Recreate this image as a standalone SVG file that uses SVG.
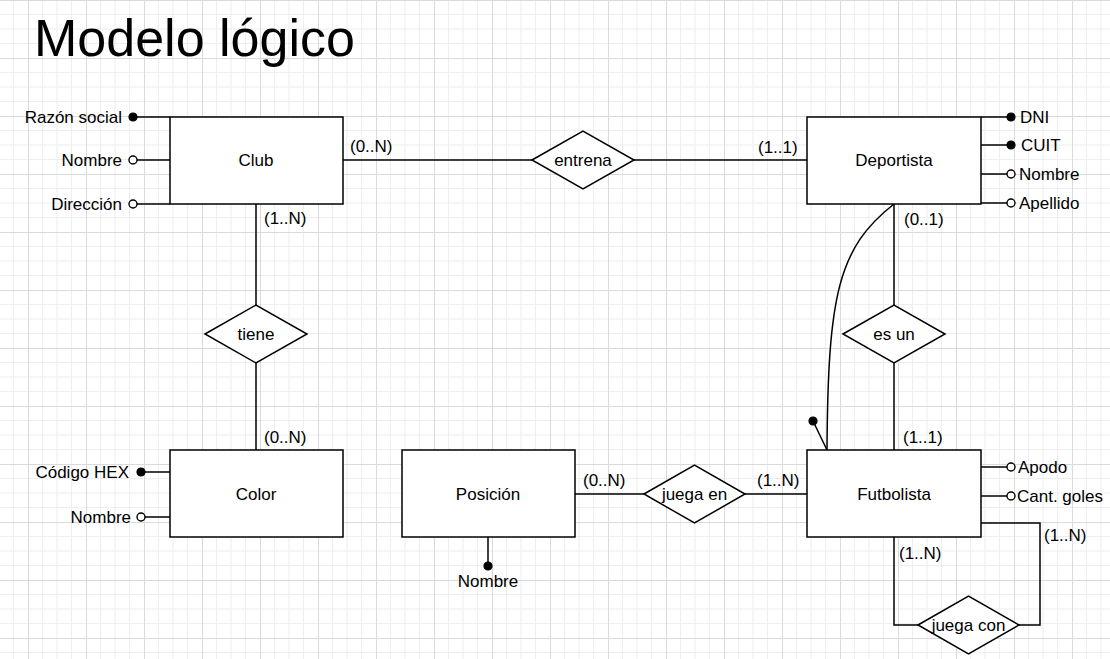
<svg xmlns="http://www.w3.org/2000/svg" width="1110" height="659" viewBox="0 0 1110 659">
<defs>
<pattern id="grid" x="28" y="0" width="58" height="58" patternUnits="userSpaceOnUse">
<rect x="14" y="0" width="1" height="58" fill="#eeeeee"/>
<rect x="28.5" y="0" width="1" height="58" fill="#eeeeee"/>
<rect x="43" y="0" width="1" height="58" fill="#eeeeee"/>
<rect x="0" y="14" width="58" height="1" fill="#eeeeee"/>
<rect x="0" y="28.5" width="58" height="1" fill="#eeeeee"/>
<rect x="0" y="43" width="58" height="1" fill="#eeeeee"/>
<rect x="0" y="0" width="1" height="58" fill="#dadada"/>
<rect x="0" y="0" width="58" height="1" fill="#dadada"/>
</pattern>
</defs>
<style>
text{font-family:"Liberation Sans",Arial,sans-serif;font-size:17px;fill:#000}
.title{font-size:52px}
.c{text-anchor:middle}
.r{text-anchor:end}
.box{fill:#fff;stroke:#000;stroke-width:1.5}
.ln{fill:none;stroke:#000;stroke-width:1.5}
.key{fill:#000;stroke:#000;stroke-width:1.2}
.opt{fill:#fff;stroke:#000;stroke-width:1.4}
</style>
<rect width="1110" height="659" fill="#fff"/>
<rect width="1110" height="659" fill="url(#grid)"/>
<text class="title" x="34" y="56">Modelo lógico</text>

<g id="connectors">
<path class="ln" d="M343 160H532M634 160H807"/>
<path class="ln" d="M256 204V305M256 363V450"/>
<path class="ln" d="M894 204V305M894 363V450"/>
<path class="ln" d="M894 204C838 248 828 295 827 450"/>
<path class="ln" d="M575 494H644M745 494H807"/>
<path class="ln" d="M894 537V625H918M1019 625H1040V523H981"/>
<text x="350" y="152">(0..N)</text>
<text x="758" y="153">(1..1)</text>
<text x="264" y="224">(1..N)</text>
<text x="264" y="443">(0..N)</text>
<text x="904" y="225">(0..1)</text>
<text x="903" y="443">(1..1)</text>
<text x="899" y="559">(1..N)</text>
<text x="1044" y="541">(1..N)</text>
<text x="583" y="486">(0..N)</text>
<text x="757" y="486">(1..N)</text>
</g>

<g id="club">
<path class="ln" d="M133 117H170M133 160H170M133 204H170"/>
<rect class="box" x="170" y="117" width="173" height="87"/>
<text class="c" x="256" y="166">Club</text>
<circle class="key" cx="133" cy="117" r="4"/>
<circle class="opt" cx="133" cy="160" r="4"/>
<circle class="opt" cx="133" cy="204" r="4"/>
<text class="r" x="122" y="123">Razón social</text>
<text class="r" x="122" y="166">Nombre</text>
<text class="r" x="122" y="210">Dirección</text>
</g>

<g id="entrena">
<polygon class="box" points="532,160 583,131 634,160 583,189"/>
<text class="c" x="583" y="166">entrena</text>
</g>

<g id="deportista">
<path class="ln" d="M981 117H1011M981 145H1011M981 174H1011M981 203H1011"/>
<rect class="box" x="807" y="117" width="174" height="87"/>
<text class="c" x="894" y="166">Deportista</text>
<circle class="key" cx="1011" cy="117" r="4"/>
<circle class="key" cx="1011" cy="145" r="4"/>
<circle class="opt" cx="1011" cy="174" r="4"/>
<circle class="opt" cx="1011" cy="203" r="4"/>
<text x="1020" y="123">DNI</text>
<text x="1021" y="151">CUIT</text>
<text x="1019" y="180">Nombre</text>
<text x="1019" y="209">Apellido</text>
</g>

<g id="tiene">
<polygon class="box" points="205,334 256,305 307,334 256,363"/>
<text class="c" x="256" y="340">tiene</text>
</g>

<g id="es-un">
<polygon class="box" points="843,334 894,305 945,334 894,363"/>
<text class="c" x="894" y="340">es un</text>
</g>

<g id="color">
<path class="ln" d="M141 472H170M141 517H170"/>
<rect class="box" x="170" y="450" width="173" height="87"/>
<text class="c" x="256" y="500">Color</text>
<circle class="key" cx="141" cy="472" r="4"/>
<circle class="opt" cx="141" cy="517" r="4"/>
<text class="r" x="129" y="478">Código HEX</text>
<text class="r" x="131" y="523">Nombre</text>
</g>

<g id="posicion">
<path class="ln" d="M488 537V566"/>
<rect class="box" x="402" y="450" width="173" height="87"/>
<text class="c" x="488" y="500">Posición</text>
<circle class="key" cx="488" cy="566" r="4"/>
<text class="c" x="488" y="587">Nombre</text>
</g>

<g id="juega-en">
<polygon class="box" points="644,494 694.5,465 745,494 694.5,523"/>
<text class="c" x="694.5" y="500">juega en</text>
</g>

<g id="futbolista">
<path class="ln" d="M827 450L813 421M981 467H1011M981 496H1011"/>
<rect class="box" x="807" y="450" width="174" height="87"/>
<text class="c" x="894" y="500">Futbolista</text>
<circle class="key" cx="813" cy="421" r="4"/>
<circle class="opt" cx="1011" cy="467" r="4"/>
<circle class="opt" cx="1011" cy="496" r="4"/>
<text x="1018" y="473">Apodo</text>
<text x="1017" y="502">Cant. goles</text>
</g>

<g id="juega-con">
<polygon class="box" points="918,625 968.5,596 1019,625 968.5,654"/>
<text class="c" x="968.5" y="631">juega con</text>
</g>
</svg>
